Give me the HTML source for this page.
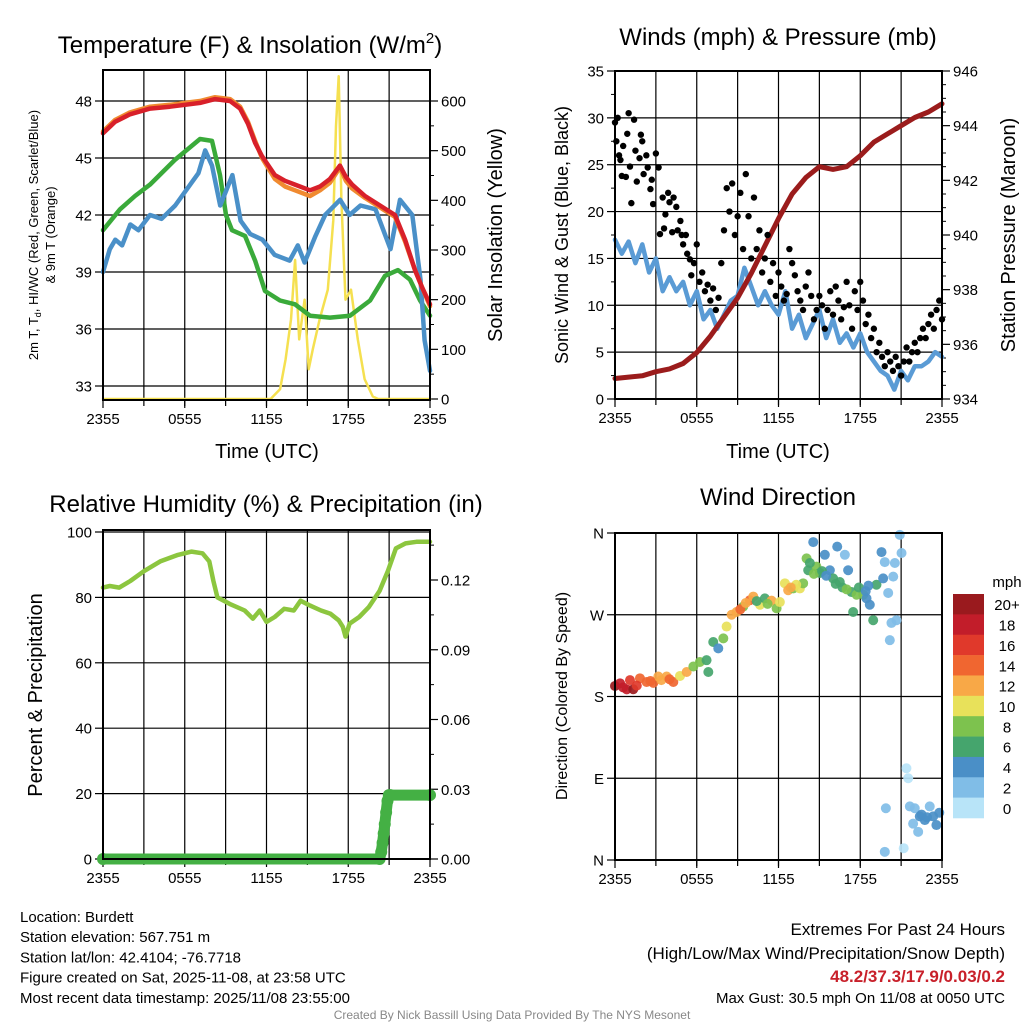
<!DOCTYPE html>
<html><head><meta charset="utf-8"><style>
body{margin:0;background:#fff}
svg{display:block;font-family:"Liberation Sans",sans-serif}
</style></head><body>
<svg id="c" width="1024" height="1024" viewBox="0 0 1024 1024"></svg>
<script>
// ---------- DATA ----------
const X_TICKS=['2355','0555','1155','1755','2355'];
const T_LEFT_TICKS=[33,36,39,42,45,48];
const INSOL_TICKS=[0,100,200,300,400,500,600];
const RED_H=[0,0.88,1.98,3.45,4.92,6.02,7.12,8.22,9.32,10.06,10.64,11.16,11.67,12.62,13.36,14.09,15.19,15.93,16.66,17.39,17.83,18.28,19.23,20.33,21.43,22.17,22.9,23.41,24];
const RED_V=[46.3,46.9,47.3,47.6,47.7,47.8,47.9,48.1,48.0,47.6,46.8,45.8,45.1,44.1,43.8,43.6,43.3,43.5,43.9,44.6,44.0,43.6,43.0,42.5,42.0,40.7,39.1,38.2,37.3];
const ORANGE_V=[46.4,47.0,47.4,47.7,47.8,47.9,48.0,48.2,48.1,47.7,46.9,45.9,45.0,43.9,43.5,43.3,43.0,43.3,43.7,44.5,43.8,43.4,42.9,42.4,41.9,40.6,39.1,38.2,37.2];
const GREEN_H=[0,1.25,2.35,3.45,5.28,7.12,8.0,8.59,9.03,9.47,10.42,11.16,11.89,12.99,14.09,15.19,16.66,18.13,19.6,20.7,21.65,22.53,23.27,24];
const GREEN_V=[41.2,42.3,43.0,43.6,44.9,46.0,45.9,44.1,42.0,41.2,40.9,39.6,38.0,37.5,37.3,36.7,36.6,36.7,37.5,38.8,39.1,38.6,37.5,36.7];
const BLUE_H=[0,0.5,0.9,1.4,2.0,2.6,3.45,4.3,5.3,6.4,7.0,7.5,8.0,8.6,9.5,10.1,10.8,11.7,12.6,13.7,14.3,14.8,15.6,16.3,17.4,18.1,18.9,20.0,21.1,21.8,22.7,23.3,23.6,24];
const BLUE_V=[39.0,40.2,40.7,40.4,41.5,41.2,42.0,41.8,42.5,43.6,44.2,45.4,44.6,42.5,44.1,41.7,41.0,40.7,39.9,39.6,40.4,39.5,40.9,42.0,42.8,42.0,42.5,42.3,40.2,42.8,42.0,38.6,35.4,33.8];
const SOLAR_H=[0,12.3,13.0,13.4,13.8,14.1,14.4,14.8,15.1,15.4,15.9,16.5,16.9,17.1,17.3,17.5,17.8,18.2,18.7,19.2,19.8,20.2,24];
const SOLAR_V=[0,0,20,80,160,280,120,200,60,100,160,220,360,550,650,400,200,220,120,40,5,0,0];

const WIND_TICKS=[0,5,10,15,20,25,30,35];
const PRES_TICKS=[934,936,938,940,942,944,946];
const WIND_H=[0,0.5,1,1.5,2,2.5,3,3.5,4,4.5,5,5.5,6,6.5,7,7.5,8,8.5,9,9.5,10,10.5,11,11.5,12,12.5,13,13.5,14,14.5,15,15.5,16,16.5,17,17.5,18,18.5,19,19.5,20,20.5,21,21.5,22,22.5,23,23.5,24];
const WIND_V=[17,15.5,16.8,14.5,16.5,13.5,15,11.5,13,11.5,12.5,10,11.5,8.5,9.5,7.5,9,10.5,11,14,12,10,11.5,10,9,11.5,7.5,9,6.5,8,9.5,6.5,8.5,6,7,5.5,7,5,4,3,2.5,1,3,2,3.5,3.5,4,5,4.5];
const PRES_H=[0,1,2,3,4,5,6,7,8,9,10,11,12,13,14,15,16,17,18,19,20,21,22,23,24];
const PRES_V=[934.75,934.8,934.85,935.0,935.1,935.3,935.7,936.3,937.0,937.7,938.6,939.6,940.6,941.5,942.1,942.5,942.4,942.5,942.9,943.4,943.7,944.0,944.3,944.5,944.8];
const GUST_H=[0,0.1,0.2,0.3,0.4,0.5,0.6,0.8,0.9,1.0,1.1,1.2,1.4,1.5,1.6,1.8,1.9,2.0,2.1,2.3,2.4,2.6,2.7,2.8,3.0,3.2,3.3,3.5,3.6,3.7,3.9,4.0,4.2,4.3,4.5,4.6,4.8,4.9,5.0,5.2,5.3,5.5,5.6,5.8,6.0,6.2,6.4,6.6,6.8,7.0,7.2,7.4,7.6,7.8,8.0,8.2,8.4,8.6,8.8,9.0,9.2,9.4,9.6,9.8,10.0,10.2,10.4,10.6,10.8,11.0,11.2,11.4,11.6,11.8,12.0,12.2,12.4,12.6,12.8,13.0,13.2,13.4,13.6,13.8,14.0,14.2,14.4,14.6,14.8,15.0,15.2,15.4,15.6,15.8,16.0,16.2,16.4,16.6,16.8,17.0,17.2,17.4,17.6,17.8,18.0,18.2,18.4,18.6,18.8,19.0,19.2,19.4,19.6,19.8,20.0,20.2,20.4,20.6,20.8,21.0,21.2,21.4,21.6,21.8,22.0,22.2,22.4,22.6,22.8,23.0,23.2,23.4,23.6,23.8,24.0];
const GUST_V=[29.5,27.5,30,26,25.5,23.8,27,23.7,28.3,30.5,24.8,20.9,29.8,26.5,23.2,25.7,28.2,27.5,24,26,24.7,22.4,23.4,20.8,26.2,24.7,17.6,21.5,18.2,19.7,22,21,17.8,21.5,20.5,18,19,17.5,16.5,17.5,15.5,14.9,13.2,14.5,16.5,12.5,13.5,11.5,12.2,10.5,11.8,9.5,10.8,14.5,18,22.5,20,23,17.5,19.5,22,16,24,19.5,15,21.5,16,18,13.5,15,17.5,12.5,14.5,11,13.5,12,10.5,11.2,16,14.5,13.2,11.5,10.5,9.5,12,13.5,11,8.5,9.5,11,10,7.5,9.5,11.5,9,12,10.5,8.5,9.8,12.5,10,7.5,11.5,9.5,12.5,10.5,8,9,6.5,7.5,5,6,4.5,3.5,5,4,3,4.5,3.5,2.5,4,5.5,4,5,6,5,6.5,7.5,6.5,8,9,7.5,9.5,10.5,8.5];

const RH_TICKS=[0,20,40,60,80,100];
const PCP_TICKS=['0.00','0.03','0.06','0.09','0.12'];
const RH_H=[0,0.5,1.2,2.0,3.0,4.2,5.5,6.5,7.3,7.8,8.1,8.4,9.3,10.4,11.0,11.5,12.0,12.6,13.3,14.0,14.5,15.2,16.0,16.7,17.3,17.6,17.8,18.1,18.8,19.5,20.3,20.9,21.5,22.2,23,24];
const RH_V=[83,83.5,83,85,88,91,93,94,93.5,91,85,80,78,76,73.5,76,72.5,74,76.5,76,79,77.5,76,75,73,71,68,72,74,77,82,88,95,96.5,97,97];
const PCP_H=[0,20.3,20.42,20.52,20.6,20.68,20.78,20.88,20.98,21.1,24];
const PCP_V=[0,0,0.003,0.007,0.011,0.015,0.02,0.025,0.0275,0.0275,0.0275];

const DIR_LABELS=['N','E','S','W','N'];
const DIR_H=[0,0.37,0.86,1.34,1.1,1.83,2.32,2.81,3.18,3.79,4.28,4.77,5.26,5.75,6.23,6.72,6.85,7.21,7.58,7.95,8.19,8.56,8.92,9.41,9.9,10.15,10.64,11.0,11.49,11.86,12.1,12.47,12.71,13.08,13.57,13.81,14.06,14.18,14.55,14.79,15.04,15.4,15.77,16.01,16.31,16.87,16.5,17.11,17.36,17.48,17.73,18.22,18.46,18.7,18.95,19.19,19.56,19.68,19.8,20.05,20.17,20.29,20.42,20.54,20.66,20.9,21.03,21.39,21.52,19.88,21.64,22.0,22.37,22.74,23.1,23.35,23.59,21.88,22.25,19.8,21.19,14.3,14.6,15.2,15.5,16.2,16.7,17.0,17.9,18.4,18.6,13.3,12.9,1.6,0.6,2.6,3.4,4.0,9.2,9.6,10.4,11.2,22.5,23.8,22.9];
const DIR_V=[191.6,194.5,187.9,188,198,200,196,195,202,202,196,202.6,207,213,218,220,207,240,233,244,257,270,273,279,286,290,281,288,285.5,277,284,304.6,297,299,299,304.6,332,319,350,323,316,336,319,310,345,336,306,319,295,273,292,292,288,281,264,303,339,310,328,294,242,261,312,327,264,358,338,101,90,57,59,57,48,44,59,48,38.5,40,31,9,13,327,315,318,313,304,300,298,300,296,302,303,300,192,190,197,198,199,276,283,285,282,50,52,47];
const DIR_SPD=[21,19,19,21,17,15,15,15,13,13,15,11,13,9,9,7,7,7,5,9,11,13,13,9,15,13,11,7,13,9,11,11,13,9,11,9,9,7,5,9,7,5,5,7,5,3,7,5,7,7,9,9,5,5,7,7,5,5,3,3,3,3,3,3,3,3,3,1,1,3,3,3,5,5,3,5,5,3,3,3,1,7,9,7,5,7,7,9,7,5,5,11,13,17,19,15,13,15,15,13,7,9,5,5,5];
const CBAR_LABELS=['20+','18','16','14','12','10','8','6','4','2','0'];
const CBAR_COLORS=['#9a1a1e','#c21d2a','#e0392b','#f06630','#f8a847','#e8e15a','#7dc24e','#45a56d','#4a8fc7','#80bde7','#b8e4f8'];

// ---------- HELPERS ----------
const NS='http://www.w3.org/2000/svg';
const svg=document.getElementById('c');
function mk(tag,attrs,parent){const e=document.createElementNS(NS,tag);for(const k in attrs)e.setAttribute(k,attrs[k]);(parent||svg).appendChild(e);return e;}
function txt(s,x,y,size,anchor,parent,extra){const e=mk('text',Object.assign({x:x,y:y,'font-size':size,'text-anchor':anchor||'middle',fill:'#000'},extra||{}),parent);e.textContent=s;return e;}
function lin(d0,d1,r0,r1){return v=>r0+(v-d0)*(r1-r0)/(d1-d0);}
function pathOf(hs,vs,sx,sy){return hs.map((h,i)=>(i?'L':'M')+sx(h).toFixed(1)+','+sy(vs[i]).toFixed(1)).join('');}

function panel(name,x0,x1,y0,y1){
  const g=mk('g',{});
  
  
  const sx=lin(0,24,x0,x1);
  // vertical grid every 3h
  for(let h=3;h<24;h+=3){const l=mk('line',{x1:sx(h),x2:sx(h),y1:y0,y2:y1,stroke:'#000','stroke-width':1.2},g);
    
    mk('line',{x1:sx(h),x2:sx(h),y1:y1,y2:y1+6,stroke:'#000','stroke-width':1.2},g);}
  X_TICKS.forEach((t,i)=>{const h=i*6;mk('line',{x1:sx(h),x2:sx(h),y1:y1,y2:y1+8,stroke:'#000','stroke-width':1.2},g);
    const e=txt(t,sx(h),y1+24,15,'middle',g);});
  return {g,sx};
}
function frame(g,x0,x1,y0,y1){const r=mk('rect',{x:x0,y:y0,width:x1-x0,height:y1-y0,fill:'none',stroke:'#000','stroke-width':2},g);}
function hgrid(g,x0,x1,y,label,lx,anchor){mk('line',{x1:x0,x2:x1,y1:y,y2:y,stroke:'#000','stroke-width':1.2},g);}
function ticksLeft(g,x0,ys,labels){ys.forEach((y,i)=>{mk('line',{x1:x0-8,x2:x0,y1:y,y2:y,stroke:'#000','stroke-width':1.2},g);const e=txt(labels[i],x0-11,y+5.5,15,'end',g);});}
function ticksRight(g,x1,ys,labels){ys.forEach((y,i)=>{mk('line',{x1:x1,x2:x1+8,y1:y,y2:y,stroke:'#000','stroke-width':1.2},g);const e=txt(labels[i],x1+11,y+5.5,15,'start',g);});}
function vtext(s,x,y,size,g,name){const e=txt(s,0,0,size,'middle',g,{transform:'translate('+x+','+y+') rotate(-90)'});return e;}
function series(g,d,color,w,name){const p=mk('path',{d:d,fill:'none',stroke:color,'stroke-width':w,'stroke-linejoin':'round','stroke-linecap':'round'},g);return p;}

// ---------- PANEL 1 ----------
(function(){
  const x0=103,x1=430,y0=70,y1=400;
  const {g,sx}=panel('temperature-panel',x0,x1,y0,y1);
  const sy=lin(33,48,386,101), sy2=lin(0,600,399,101);
  T_LEFT_TICKS.forEach(v=>hgrid(g,x0,x1,sy(v)));
  ticksLeft(g,x0,T_LEFT_TICKS.map(sy),T_LEFT_TICKS.map(String));
  ticksRight(g,x1,INSOL_TICKS.map(sy2),INSOL_TICKS.map(String));
  for(let v=50;v<650;v+=100)mk('line',{x1:x1,x2:x1+4,y1:sy2(v),y2:sy2(v),stroke:'#000'},g);
  series(g,pathOf(SOLAR_H,SOLAR_V,sx,sy2),'#f5e050',2.5,'solar-insolation-line');
  series(g,pathOf(GREEN_H,GREEN_V,sx,sy),'#3aaa3a',4.5,'dewpoint-line');
  series(g,pathOf(BLUE_H,BLUE_V,sx,sy),'#4a90c8',4.5,'wind-chill-line');
  series(g,pathOf(RED_H,ORANGE_V,sx,sy),'#f08a30',4.5,'temp-9m-line');
  series(g,pathOf(RED_H,RED_V,sx,sy),'#d8202a',4.5,'temp-2m-line');
  frame(g,x0,x1,y0,y1);
  const t=txt('Temperature (F) & Insolation (W/m',250,53,24,'middle',g);
  const sup=mk('tspan',{dy:-10,'font-size':15},t);sup.textContent='2';const cl=mk('tspan',{dy:10},t);cl.textContent=')';
  const xl=txt('Time (UTC)',267,458,20,'middle',g);
  const a=vtext('2m T, T',38,235,13,g,'y-axis-title');a.textContent='';
  const s1=mk('tspan',{},a);s1.textContent='2m T, T';const s2=mk('tspan',{dy:3,'font-size':9},a);s2.textContent='d';const s3=mk('tspan',{dy:-3},a);s3.textContent=', HI/WC (Red, Green, Scarlet/Blue)';
  vtext('& 9m T (Orange)',55,235,13,g,'y-axis-title-line2');
  vtext('Solar Insolation (Yellow)',502,235,20,g,'y2-axis-title');
})();

// ---------- PANEL 2 ----------
(function(){
  const x0=615,x1=942,y0=71,y1=399;
  const {g,sx}=panel('winds-panel',x0,x1,y0,y1);
  const sy=lin(0,35,399,71), sy2=lin(934,946,399,71);
  WIND_TICKS.forEach(v=>hgrid(g,x0,x1,sy(v)));
  ticksLeft(g,x0,WIND_TICKS.map(sy),WIND_TICKS.map(String));
  for(let v=2.5;v<35;v+=5)mk('line',{x1:x0-4,x2:x0,y1:sy(v),y2:sy(v),stroke:'#000'},g);
  ticksRight(g,x1,PRES_TICKS.map(sy2),PRES_TICKS.map(String));
  for(let v=934.5;v<946;v+=0.5){if(v%2)mk('line',{x1:x1,x2:x1+4,y1:sy2(v),y2:sy2(v),stroke:'#000'},g);}
  series(g,pathOf(WIND_H,WIND_V,sx,sy),'#5a9bd5',4.5,'sonic-wind-line');
  series(g,pathOf(PRES_H,PRES_V,sx,sy2),'#9b1c1c',5,'pressure-line');
  GUST_H.forEach((h,i)=>{const c=mk('circle',{cx:sx(h),cy:sy(GUST_V[i]),r:3.2,fill:'#000'},g);
    });
  frame(g,x0,x1,y0,y1);
  const t=txt('Winds (mph) & Pressure (mb)',778,45,24,'middle',g);
  const xl=txt('Time (UTC)',778,458,20,'middle',g);
  vtext('Sonic Wind & Gust (Blue, Black)',568,235,18,g,'y-axis-title');
  vtext('Station Pressure (Maroon)',1015,235,20,g,'y2-axis-title');
})();

// ---------- PANEL 3 ----------
(function(){
  const x0=103,x1=430,y0=530,y1=859;
  const {g,sx}=panel('humidity-panel',x0,x1,y0,y1);
  const sy=lin(0,100,859,532), sy2=lin(0,0.12,859,580);
  RH_TICKS.forEach(v=>hgrid(g,x0,x1,sy(v)));
  ticksLeft(g,x0,RH_TICKS.map(sy),RH_TICKS.map(String));
  ticksRight(g,x1,PCP_TICKS.map(v=>sy2(+v)),PCP_TICKS);
  for(let v=0.015;v<0.14;v+=0.03)mk('line',{x1:x1,x2:x1+4,y1:sy2(v),y2:sy2(v),stroke:'#000'},g);
  series(g,pathOf(RH_H,RH_V,sx,sy),'#8cc63f',4.5,'relative-humidity-line');
  series(g,pathOf(PCP_H,PCP_V,sx,sy2),'#44b044',11,'precipitation-line');
  PCP_H.forEach((h,i)=>{const c=mk('circle',{cx:sx(h),cy:sy2(PCP_V[i]),r:6,fill:'#44b044'},g);
    });
  frame(g,x0,x1,y0,y1);
  const t=txt('Relative Humidity (%) & Precipitation (in)',266,512,24,'middle',g);
  vtext('Percent & Precipitation',42,695,20,g,'y-axis-title');
})();

// ---------- PANEL 4 ----------
(function(){
  const x0=615,x1=942,y0=533,y1=860;
  const {g,sx}=panel('wind-direction-panel',x0,x1,y0,y1);
  const sy=lin(0,360,860,533);
  [90,180,270].forEach(v=>hgrid(g,x0,x1,sy(v)));
  ticksLeft(g,x0,[0,90,180,270,360].map(sy),DIR_LABELS);
  DIR_H.forEach((h,i)=>{const k=Math.min(10,Math.floor(DIR_SPD[i]/2));
    const c=mk('circle',{cx:sx(h),cy:sy(DIR_V[i]),r:5,fill:CBAR_COLORS[10-k],'fill-opacity':0.92},g);
    });
  frame(g,x0,x1,y0,y1);
  const t=txt('Wind Direction',778,505,24,'middle',g);
  vtext('Direction (Colored By Speed)',567,696,16,g,'y-axis-title');
  const cb=mk('g',{},g);
  
  
  const bh=(818-594)/CBAR_COLORS.length;
  CBAR_COLORS.forEach((c,i)=>{mk('rect',{x:953,y:594+i*bh,width:31,height:bh+0.3,fill:c},cb);
    const e=txt(CBAR_LABELS[i],1007,594+i*bh+bh/2+6,15,'middle',cb);});
  const m=txt('mph',1007,587,15,'middle',cb);
})();

// ---------- FOOTER ----------
(function(){
  const g=mk('g',{});
  
  
  ['Location: Burdett','Station elevation: 567.751 m','Station lat/lon: 42.4104; -76.7718','Figure created on Sat, 2025-11-08, at 23:58 UTC','Most recent data timestamp: 2025/11/08 23:55:00'].forEach((s,i)=>txt(s,20,922+i*20.2,15,'start',g));
  const r=mk('g',{});
  
  
  txt('Extremes For Past 24 Hours',1005,935,17,'end',r);
  txt('(High/Low/Max Wind/Precipitation/Snow Depth)',1005,959,17,'end',r);
  txt('48.2/37.3/17.9/0.03/0.2',1005,982,17,'end',r,{fill:'#c8202a','font-weight':'bold'});
  txt('Max Gust: 30.5 mph On 11/08 at 0050 UTC',1005,1003,15,'end',r);
  const cr=txt('Created By Nick Bassill Using Data Provided By The NYS Mesonet',512,1019,12,'middle',svg,{fill:'#888'});
  
})();
</script>
</body></html>
